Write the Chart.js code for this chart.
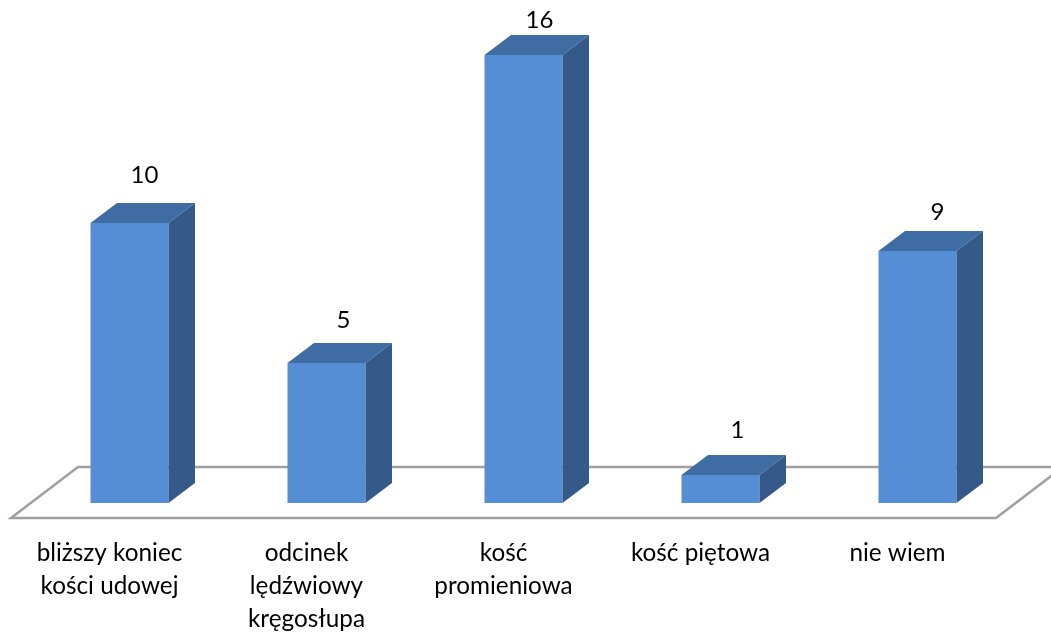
<!DOCTYPE html>
<html lang="pl">
<head>
<meta charset="utf-8">
<title>Wykres</title>
<script src="https://cdn.jsdelivr.net/npm/chart.js@4"></script>
<style>
  html, body { margin: 0; padding: 0; background: #fff; }
  canvas { display: block; }
</style>
</head>
<body>
<canvas id="chart" width="1051" height="633"></canvas>
<script>
const categories = [
  ['bliższy koniec', 'kości udowej'],
  ['odcinek', 'lędźwiowy', 'kręgosłupa'],
  ['kość', 'promieniowa'],
  'kość piętowa',
  'nie wiem',
]
const values = [10, 5, 16, 1, 9]

// how far each value label sits from the front top corner of its bar
const labelShiftX = [15, 17, 16, 17, 20]
const labelShiftY = [48, 43, 35, 45, 39]

const FONT = 'Lato, "Open Sans", sans-serif'
const DEPTH_X = 26.5
const DEPTH_Y = 20

const floorPlugin = {
  id: 'floor',
  beforeDatasetsDraw(chart) {
    const { ctx, chartArea } = chart
    const frontY = chartArea.bottom + 15
    const backY = chartArea.bottom - 36
    ctx.save()
    ctx.strokeStyle = '#a0a0a0'
    ctx.lineWidth = 2.5
    ctx.lineJoin = 'miter'
    ctx.beginPath()
    ctx.moveTo(chartArea.left + 47, backY)
    ctx.lineTo(chartArea.right + 47, backY)
    ctx.lineTo(chartArea.right - 20, frontY)
    ctx.lineTo(chartArea.left - 20, frontY)
    ctx.closePath()
    ctx.stroke()
    ctx.restore()
  },
}

const boxPlugin = {
  id: 'box',
  afterDatasetsDraw(chart) {
    const { ctx } = chart
    chart.getDatasetMeta(0).data.forEach((bar, i) => {
      const left = bar.x - bar.width / 2
      const right = bar.x + bar.width / 2
      const top = bar.y
      const bottom = bar.base

      ctx.save()
      ctx.fillStyle = '#3f6ca3'
      ctx.beginPath()
      ctx.moveTo(left, top)
      ctx.lineTo(left + DEPTH_X, top - DEPTH_Y)
      ctx.lineTo(right + DEPTH_X, top - DEPTH_Y)
      ctx.lineTo(right, top)
      ctx.closePath()
      ctx.fill()

      ctx.fillStyle = '#355a89'
      ctx.beginPath()
      ctx.moveTo(right, top)
      ctx.lineTo(right + DEPTH_X, top - DEPTH_Y)
      ctx.lineTo(right + DEPTH_X, bottom - DEPTH_Y)
      ctx.lineTo(right, bottom)
      ctx.closePath()
      ctx.fill()

      ctx.fillStyle = '#000'
      ctx.font = '24px ' + FONT
      ctx.textAlign = 'center'
      ctx.textBaseline = 'middle'
      ctx.fillText(String(values[i]), bar.x + labelShiftX[i], top - labelShiftY[i])
      ctx.restore()
    })
  },
}

new Chart(document.getElementById('chart'), {
  type: 'bar',
  data: {
    labels: categories,
    datasets: [
      {
        data: values,
        backgroundColor: '#558ed5',
        borderWidth: 0,
        barPercentage: 0.396,
        categoryPercentage: 1,
      },
    ],
  },
  options: {
    responsive: false,
    animation: false,
    layout: {
      padding: { top: 55, left: 31, right: 35, bottom: 0 },
    },
    plugins: {
      legend: { display: false },
      tooltip: { enabled: false },
    },
    scales: {
      x: {
        grid: { display: false },
        border: { display: false },
        afterFit(scale) {
          scale.height = 130
        },
        ticks: {
          color: '#000',
          autoSkip: false,
          maxRotation: 0,
          padding: 26,
          labelOffset: -20,
          font: { family: FONT, size: 24.3, lineHeight: 1.36 },
        },
      },
      y: {
        display: false,
        min: 0,
        max: 16,
      },
    },
  },
  plugins: [floorPlugin, boxPlugin],
})
</script>
</body>
</html>
